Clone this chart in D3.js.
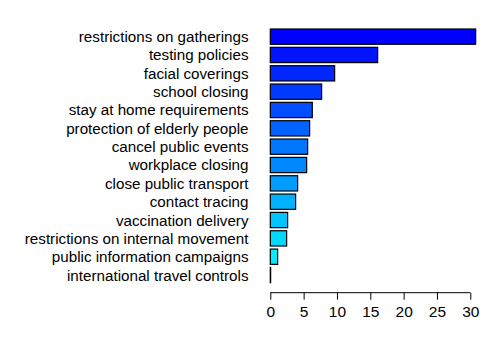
<!doctype html>
<html>
<head>
<meta charset="utf-8">
<title>Policy measures</title>
<script src="https://cdnjs.cloudflare.com/ajax/libs/d3/7.8.5/d3.min.js"></script>
<style>
    body { margin: 0; background: #fff; }
    text { font-family: "Liberation Sans", Arial, sans-serif; fill: black; }
</style>
</head>
<body>
<div id="chart"></div>
<script>
    var categories = ["restrictions on gatherings", "testing policies", "facial coverings", "school closing",
        "stay at home requirements", "protection of elderly people", "cancel public events", "workplace closing",
        "close public transport", "contact tracing", "vaccination delivery", "restrictions on internal movement",
        "public information campaigns", "international travel controls"];
    var values = [30.8, 16.1, 9.65, 7.7, 6.3, 5.9, 5.6, 5.45, 4.1, 3.8, 2.6, 2.45, 1.1, 0.05];
    var ticks = [0, 5, 10, 15, 20, 25, 30];

    var width = 495, height = 350;

    var svg = d3.select("#chart").append("svg").attr("width", width).attr("height", height);

    var xScale = d3.scaleLinear([0, 30], [270.3, 470.3]);
    var yScale = d3.scaleBand(categories, [29, 282.7]).paddingInner(1 / 6).paddingOuter(0);

    var color = d3.interpolateRgb("#0000ff", "#00ffff");

    svg.append("g").attr("class", "bars")
        .selectAll("rect")
        .data(values)
        .join("rect")
        .attr("x", xScale(0))
        .attr("y", (d, i) => yScale(categories[i]))
        .attr("width", d => xScale(d) - xScale(0))
        .attr("height", yScale.bandwidth())
        .attr("fill", (d, i) => color(i / (categories.length - 1)))
        .attr("stroke", "black")
        .attr("stroke-width", 1.2);

    svg.append("g").attr("class", "labels")
        .selectAll("text")
        .data(categories)
        .join("text")
        .attr("x", 248.5)
        .attr("y", d => yScale(d) + yScale.bandwidth() / 2)
        .attr("dy", "0.36em")
        .attr("text-anchor", "end")
        .style("font-size", "15.2px")
        .text(d => d);

    var xAxis = d3.axisBottom(xScale).tickValues(ticks).tickSize(7).tickPadding(6);

    var ax = svg.append("g").attr("class", "x-axis")
        .attr("transform", "translate(0,292.7)")
        .call(xAxis);
    ax.select(".domain").attr("d", "M" + xScale(0) + ",0H" + xScale(30)).attr("stroke", "black");
    ax.selectAll(".tick line").attr("stroke", "black");
    ax.selectAll(".tick text").style("font-size", "15.5px").attr("fill", "black");
</script>
</body>
</html>
